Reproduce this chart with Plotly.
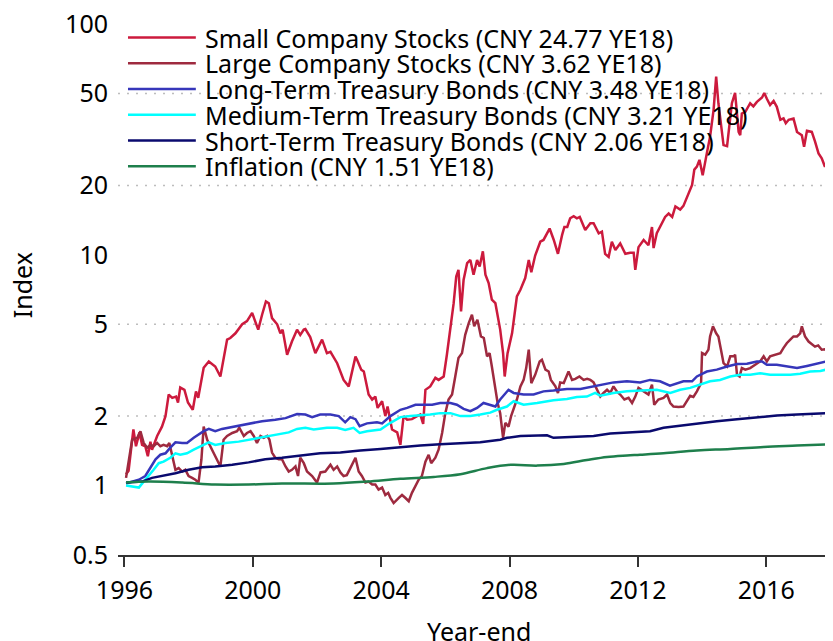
import numpy as np
import plotly.graph_objs as go

# ---- data (index, 1996 = 1) ----
small_years = [
    1996.05, 1996.13, 1996.28, 1996.36, 1996.47, 1996.55, 1996.65, 1996.73, 1996.81, 1996.86,
    1997.02, 1997.17, 1997.28, 1997.38, 1997.49, 1997.61, 1997.67, 1997.74, 1997.87, 1997.98,
    1998.13, 1998.23, 1998.30, 1998.47, 1998.63, 1998.83, 1998.99, 1999.20, 1999.30, 1999.46,
    1999.67, 1999.82, 1999.98, 2000.17, 2000.29, 2000.41, 2000.50, 2000.60, 2000.76, 2000.86,
    2000.93, 2001.07, 2001.22, 2001.38, 2001.48, 2001.59, 2001.64, 2001.79, 2001.95, 2002.16,
    2002.31, 2002.42, 2002.63, 2002.83, 2002.99, 2003.20, 2003.25, 2003.38, 2003.46, 2003.61,
    2003.72, 2003.82, 2003.89, 2004.03, 2004.13, 2004.20, 2004.34, 2004.50, 2004.60, 2004.70,
    2004.81, 2004.96, 2005.12, 2005.22, 2005.31, 2005.38, 2005.53, 2005.69, 2005.79, 2005.95,
    2006.05, 2006.16, 2006.26, 2006.34, 2006.41, 2006.49, 2006.57, 2006.68, 2006.78, 2006.88,
    2006.99, 2007.07, 2007.17, 2007.25, 2007.35, 2007.45, 2007.56, 2007.71, 2007.80, 2007.85,
    2007.94, 2008.08, 2008.23, 2008.34, 2008.49, 2008.60, 2008.68, 2008.80, 2008.96, 2009.06,
    2009.15, 2009.25, 2009.38, 2009.51, 2009.64, 2009.71, 2009.80, 2009.89, 2010.00, 2010.10,
    2010.19, 2010.36, 2010.52, 2010.62, 2010.78, 2010.88, 2010.98, 2011.09, 2011.19, 2011.30,
    2011.45, 2011.61, 2011.76, 2011.87, 2011.92, 2012.02, 2012.18, 2012.33, 2012.44, 2012.49,
    2012.59, 2012.75, 2012.85, 2012.96, 2013.07, 2013.17, 2013.32, 2013.42, 2013.58, 2013.69,
    2013.76, 2013.84, 2013.92, 2014.02, 2014.15, 2014.25, 2014.36, 2014.44, 2014.51, 2014.59,
    2014.67, 2014.78, 2014.86, 2014.93, 2015.03, 2015.09, 2015.14, 2015.19, 2015.24, 2015.35,
    2015.50, 2015.60, 2015.71, 2015.87, 2015.94, 2016.02, 2016.12, 2016.23, 2016.33, 2016.44,
    2016.54, 2016.61, 2016.70, 2016.85, 2016.96, 2017.11, 2017.18, 2017.27, 2017.42, 2017.52,
    2017.63, 2017.73, 2017.83, 2017.94, 2018.00,
]
small_values = [
    1.12, 1.16, 1.75, 1.48, 1.70, 1.50, 1.48, 1.34, 1.55, 1.43,
    1.64, 1.80, 2.00, 2.48, 2.40, 2.43, 2.29, 2.66, 2.60, 2.29,
    2.13, 2.56, 2.40, 3.24, 3.45, 3.28, 2.97, 4.29, 4.36, 4.57,
    5.00, 5.16, 5.60, 4.74, 5.50, 6.28, 6.17, 5.32, 5.00, 4.57,
    4.74, 3.69, 4.21, 4.74, 4.50, 4.74, 4.77, 4.40, 3.75, 4.29,
    3.75, 3.80, 3.39, 2.87, 2.69, 3.62, 3.51, 3.18, 3.12, 2.48,
    2.36, 2.43, 2.17, 2.32, 2.00, 2.20, 1.75, 1.70, 1.50, 2.00,
    1.93, 1.94, 2.00, 2.03, 1.85, 2.60, 2.69, 2.93, 2.87, 2.97,
    3.70, 4.90, 6.17, 8.05, 8.61, 5.69, 7.80, 9.20, 9.50, 8.20,
    9.50, 8.90, 10.35, 8.20, 7.55, 6.39, 6.17, 4.74, 3.75, 2.97,
    3.75, 4.57, 6.60, 7.06, 7.93, 9.50, 8.40, 9.93, 11.4, 11.6,
    12.2, 13.0, 11.6, 10.1, 12.2, 13.2, 13.2, 14.4, 14.7, 14.4,
    14.6, 12.8, 13.7, 13.7, 12.4, 12.6, 10.1, 9.8, 11.4, 10.5,
    11.2, 10.1, 10.2, 10.2, 8.6, 10.8, 11.6, 11.0, 13.2, 10.7,
    12.4, 13.7, 14.6, 15.1, 14.6, 16.2, 15.7, 16.3, 18.5, 20.1,
    23.4, 24.1, 25.8, 22.1, 27.6, 32.5, 42.5, 59.2, 45.4, 37.2,
    29.9, 29.6, 38.5, 45.4, 50.3, 41.0, 34.1, 33.0, 41.0, 41.7,
    45.4, 44.0, 46.0, 48.1, 50.3, 47.5, 44.6, 46.5, 43.8, 38.5,
    39.0, 37.2, 38.5, 39.0, 34.1, 33.0, 29.4, 34.5, 34.1, 31.0,
    27.5, 26.2, 24.1, 25.3, 24.77,
]

large_years = [
    1996.05, 1996.24, 1996.40, 1996.50, 1996.60, 1996.71, 1996.81, 1996.91, 1997.02, 1997.12,
    1997.22, 1997.33, 1997.40, 1997.49, 1997.59, 1997.69, 1997.80, 1997.90, 1998.00, 1998.11,
    1998.21, 1998.31, 1998.40, 1998.47, 1998.58, 1998.73, 1998.83, 1998.99, 1999.09, 1999.20,
    1999.36, 1999.51, 1999.58, 1999.72, 1999.82, 1999.93, 2000.03, 2000.13, 2000.24, 2000.34,
    2000.45, 2000.52, 2000.60, 2000.70, 2000.81, 2000.91, 2001.02, 2001.12, 2001.22, 2001.33,
    2001.41, 2001.48, 2001.59, 2001.69, 2001.85, 2002.00, 2002.11, 2002.26, 2002.42, 2002.52,
    2002.63, 2002.73, 2002.83, 2002.93, 2003.04, 2003.20, 2003.30, 2003.40, 2003.51, 2003.61,
    2003.72, 2003.82, 2003.92, 2004.03, 2004.13, 2004.22, 2004.29, 2004.39, 2004.55, 2004.65,
    2004.75, 2004.86, 2004.96, 2005.07, 2005.17, 2005.27, 2005.38, 2005.48, 2005.56, 2005.69,
    2005.79, 2005.90, 2006.00, 2006.10, 2006.21, 2006.31, 2006.41, 2006.52, 2006.62, 2006.73,
    2006.83, 2006.90, 2007.00, 2007.11, 2007.20, 2007.30, 2007.38, 2007.45, 2007.56, 2007.63,
    2007.71, 2007.80, 2007.87, 2007.97, 2008.05, 2008.15, 2008.23, 2008.34, 2008.44, 2008.52,
    2008.60, 2008.68, 2008.80, 2008.94, 2009.01, 2009.12, 2009.22, 2009.29, 2009.43, 2009.51,
    2009.58, 2009.69, 2009.84, 2009.95, 2010.05, 2010.18, 2010.31, 2010.42, 2010.52, 2010.62,
    2010.73, 2010.83, 2010.93, 2011.04, 2011.14, 2011.24, 2011.35, 2011.45, 2011.58, 2011.71,
    2011.82, 2011.92, 2012.02, 2012.18, 2012.33, 2012.44, 2012.51, 2012.64, 2012.80, 2012.91,
    2013.01, 2013.11, 2013.27, 2013.42, 2013.53, 2013.63, 2013.73, 2013.84, 2013.97, 2014.00,
    2014.10, 2014.20, 2014.25, 2014.34, 2014.44, 2014.51, 2014.59, 2014.67, 2014.78, 2014.88,
    2014.99, 2015.03, 2015.09, 2015.17, 2015.24, 2015.35, 2015.50, 2015.66, 2015.81, 2015.92,
    2016.02, 2016.12, 2016.28, 2016.44, 2016.54, 2016.64, 2016.75, 2016.85, 2016.96, 2017.06,
    2017.11, 2017.21, 2017.32, 2017.42, 2017.52, 2017.62, 2017.73, 2017.83, 2017.94, 2018.00,
]
large_values = [
    1.08, 1.58, 1.61, 1.72, 1.53, 1.46, 1.50, 1.48, 1.53, 1.48,
    1.50, 1.48, 1.53, 1.36, 1.17, 1.19, 1.15, 1.17, 1.10, 1.08,
    1.06, 1.03, 1.30, 1.80, 1.58, 1.43, 1.34, 1.21, 1.58, 1.64,
    1.69, 1.72, 1.78, 1.64, 1.69, 1.72, 1.64, 1.53, 1.64, 1.61,
    1.64, 1.58, 1.39, 1.32, 1.30, 1.30, 1.21, 1.15, 1.17, 1.21,
    1.10, 1.32, 1.25, 1.15, 1.10, 1.03, 1.14, 1.15, 1.23, 1.17,
    1.21, 1.14, 1.10, 1.11, 1.19, 1.32, 1.15, 1.10, 1.03, 1.04,
    1.01, 1.01, 0.96, 0.98, 0.91, 0.93, 0.885, 0.84, 0.885, 0.91,
    0.885, 0.855, 0.93, 1.00, 1.06, 1.10, 1.27, 1.36, 1.25, 1.32,
    1.43, 1.69, 2.06, 2.36, 2.48, 2.97, 3.57, 3.75, 4.50, 5.06,
    5.50, 4.90, 5.23, 4.43, 4.36, 3.63, 3.75, 3.28, 2.69, 2.28,
    2.06, 1.61, 1.87, 1.80, 2.00, 2.20, 2.36, 2.69, 2.87, 3.23,
    3.88, 2.78, 3.02, 3.45, 3.51, 3.18, 3.12, 2.87, 2.69, 2.52,
    2.80, 2.78, 3.12, 2.87, 2.90, 2.97, 2.87, 2.90, 2.87, 2.80,
    2.60, 2.43, 2.52, 2.60, 2.52, 2.69, 2.55, 2.48, 2.36, 2.40,
    2.28, 2.43, 2.65, 2.56, 2.48, 2.74, 2.24, 2.36, 2.40, 2.48,
    2.28, 2.20, 2.19, 2.20, 2.32, 2.45, 2.42, 2.56, 2.78, 3.75,
    3.69, 3.88, 4.43, 4.90, 4.57, 4.43, 3.88, 3.39, 3.28, 3.63,
    3.63, 3.69, 3.02, 2.97, 3.23, 3.18, 3.23, 3.34, 3.45, 3.63,
    3.45, 3.63, 3.69, 3.75, 3.95, 4.14, 4.29, 4.43, 4.43, 4.57,
    4.90, 4.43, 4.21, 4.10, 4.00, 4.05, 3.88, 3.90, 3.75, 3.62,
]

long_years = [
    1996.05, 1996.45, 1996.65, 1996.81, 1996.97, 1997.12, 1997.28, 1997.43, 1997.59, 1997.80,
    1997.95, 1998.16, 1998.31, 1998.47, 1998.63, 1998.83, 1999.04, 1999.46, 1999.87, 2000.29,
    2000.70, 2001.02, 2001.38, 2001.64, 2001.85, 2002.10, 2002.42, 2002.68, 2002.88, 2003.04,
    2003.20, 2003.33, 2003.56, 2003.87, 2004.03, 2004.29, 2004.60, 2004.81, 2005.07, 2005.33,
    2005.59, 2005.84, 2006.16, 2006.36, 2006.57, 2006.78, 2006.99, 2007.19, 2007.40, 2007.56,
    2007.71, 2007.97, 2008.13, 2008.44, 2008.75, 2009.06, 2009.37, 2009.79, 2010.21, 2010.52,
    2010.83, 2011.24, 2011.66, 2012.07, 2012.38, 2012.69, 2013.00, 2013.42, 2013.69, 2013.84,
    2014.15, 2014.46, 2014.78, 2015.09, 2015.40, 2015.71, 2015.87, 2016.02, 2016.33, 2016.64,
    2016.96, 2017.27, 2017.58, 2018.00,
]
long_values = [
    1.02, 1.06, 1.10, 1.19, 1.30, 1.36, 1.38, 1.46, 1.54, 1.53,
    1.53, 1.61, 1.66, 1.72, 1.76, 1.72, 1.76, 1.81, 1.86, 1.90,
    1.93, 1.96, 2.04, 2.03, 1.98, 2.03, 2.03, 2.00, 1.88, 1.98,
    1.94, 1.81, 1.86, 1.88, 1.86, 2.00, 2.13, 2.17, 2.24, 2.24,
    2.24, 2.28, 2.28, 2.24, 2.15, 2.10, 2.17, 2.28, 2.24, 2.20,
    2.36, 2.60, 2.52, 2.48, 2.48, 2.56, 2.58, 2.62, 2.62, 2.67,
    2.74, 2.80, 2.83, 2.80, 2.87, 2.83, 2.71, 2.83, 2.83, 2.97,
    3.12, 3.18, 3.28, 3.36, 3.37, 3.45, 3.45, 3.34, 3.34, 3.28,
    3.23, 3.30, 3.37, 3.48,
]

medium_years = [
    1996.05, 1996.24, 1996.45, 1996.60, 1996.76, 1996.91, 1997.07, 1997.22, 1997.43, 1997.59,
    1997.74, 1997.95, 1998.16, 1998.37, 1998.63, 1998.83, 1999.15, 1999.56, 1999.98, 2000.39,
    2000.81, 2001.12, 2001.38, 2001.64, 2001.90, 2002.31, 2002.63, 2002.88, 2003.14, 2003.33,
    2003.56, 2003.98, 2004.29, 2004.60, 2004.91, 2005.22, 2005.53, 2005.84, 2006.16, 2006.47,
    2006.78, 2007.09, 2007.40, 2007.61, 2007.92, 2008.13, 2008.44, 2008.86, 2009.37, 2009.79,
    2010.10, 2010.41, 2010.67, 2010.83, 2011.24, 2011.66, 2012.07, 2012.59, 2013.01, 2013.32,
    2013.63, 2013.94, 2014.25, 2014.56, 2014.88, 2015.19, 2015.50, 2015.81, 2016.12, 2016.44,
    2016.75, 2017.06, 2017.37, 2017.69, 2018.00,
]
medium_values = [
    1.00, 0.99, 0.98, 1.04, 1.10, 1.17, 1.25, 1.27, 1.32, 1.38,
    1.36, 1.38, 1.43, 1.48, 1.54, 1.50, 1.53, 1.55, 1.59, 1.63,
    1.68, 1.70, 1.76, 1.78, 1.75, 1.78, 1.78, 1.74, 1.78, 1.69,
    1.72, 1.75, 1.87, 1.98, 2.00, 2.01, 2.03, 2.06, 2.06, 2.00,
    2.00, 2.03, 2.07, 2.13, 2.20, 2.32, 2.24, 2.28, 2.34, 2.37,
    2.42, 2.43, 2.52, 2.45, 2.52, 2.56, 2.58, 2.60, 2.52, 2.60,
    2.65, 2.74, 2.83, 2.87, 2.97, 3.02, 3.02, 3.07, 3.02, 3.02,
    3.02, 3.05, 3.12, 3.14, 3.21,
]

short_years = [
    1996.05, 1996.55, 1996.86, 1997.17, 1997.59, 1998.00, 1998.42, 1998.83, 1999.36, 1999.87,
    2000.39, 2000.91, 2001.54, 2002.10, 2002.73, 2003.35, 2003.98, 2004.60, 2005.22, 2005.84,
    2006.47, 2007.09, 2007.71, 2007.92, 2008.34, 2009.17, 2009.37, 2009.89, 2010.62, 2011.14,
    2011.66, 2012.07, 2012.38, 2012.80, 2013.32, 2013.84, 2014.46, 2015.09, 2015.71, 2016.33,
    2016.96, 2017.58, 2018.00,
]
short_values = [
    1.03, 1.04, 1.08, 1.10, 1.13, 1.17, 1.20, 1.21, 1.23, 1.26,
    1.30, 1.32, 1.35, 1.38, 1.39, 1.42, 1.44, 1.47, 1.49, 1.51,
    1.52, 1.54, 1.58, 1.61, 1.64, 1.65, 1.61, 1.62, 1.64, 1.68,
    1.70, 1.72, 1.72, 1.78, 1.82, 1.86, 1.90, 1.94, 1.98, 2.01,
    2.03, 2.05, 2.06,
]

inflation_years = [
    1996.05, 1996.76, 1997.80, 1998.83, 1999.87, 2000.91, 2002.52, 2003.56, 2004.60, 2005.64,
    2006.47, 2007.30, 2008.04, 2008.86, 2009.69, 2010.41, 2011.04, 2011.66, 2012.07, 2012.80,
    2013.84, 2014.88, 2015.92, 2016.96, 2018.00,
]
inflation_values = [
    1.03, 1.04, 1.03, 1.01, 1.01, 1.02, 1.02, 1.04, 1.07, 1.09,
    1.12, 1.19, 1.23, 1.22, 1.24, 1.29, 1.33, 1.35, 1.36, 1.38,
    1.42, 1.44, 1.47, 1.49, 1.51,
]

series_names = [
    "Small Company Stocks (CNY 24.77 YE18)",
    "Large Company Stocks (CNY 3.62 YE18)",
    "Long-Term Treasury Bonds (CNY 3.48 YE18)",
    "Medium-Term Treasury Bonds (CNY 3.21 YE18)",
    "Short-Term Treasury Bonds (CNY 2.06 YE18)",
    "Inflation (CNY 1.51 YE18)",
]
series_colors = ["#CC1A3D", "#9E2A3F", "#3636BA", "#00FFFF", "#0A0A6E", "#1E7F4C"]

x_ticks = [1996, 2000, 2004, 2008, 2012, 2016]
y_ticks = [0.5, 1, 2, 5, 10, 20, 50, 100]
y_tick_text = ["0.5", "1", "2", "5", "10", "20", "50", "100"]
grid_levels = [2, 5, 20, 50]

FONT = "Noto Sans"
FS = 25

series = [
    (small_years, small_values),
    (large_years, large_values),
    (long_years, long_values),
    (medium_years, medium_values),
    (short_years, short_values),
    (inflation_years, inflation_values),
]

fig = go.Figure()
for (xs, ys), name, color in zip(series, series_names, series_colors):
    fig.add_trace(
        go.Scatter(
            x=xs,
            y=ys,
            name=name,
            mode="lines",
            line=dict(color=color, width=2.5,
                      shape="spline" if name.startswith("Inflation") else "linear"),
            showlegend=False,
        )
    )

# dotted gridlines only at some levels (shape y is in data units here)
for v in grid_levels:
    fig.add_shape(
        type="line", xref="paper", x0=0, x1=1, yref="y", y0=v, y1=v,
        line=dict(color="#BDBDBD", width=1.5, dash="2px,7px"),
        layer="below",
    )

# legend drawn by hand (long line samples, tight rows)
leg_top = 0.9745
leg_step = 0.0485
for i, (name, color) in enumerate(zip(series_names, series_colors)):
    yy = leg_top - i * leg_step
    fig.add_shape(
        type="line", xref="paper", yref="paper",
        x0=0.014, x1=0.109, y0=yy, y1=yy,
        line=dict(color=color, width=2.5),
    )
    fig.add_annotation(
        xref="paper", yref="paper", x=0.1195, y=yy,
        text=name, showarrow=False, xanchor="left", yanchor="middle",
        font=dict(family=FONT, size=FS, color="black"),
    )

# axis titles as annotations so they sit exactly where the reference has them
fig.add_annotation(
    xref="paper", yref="paper", x=-0.1345, y=0.508,
    text="Index", textangle=-90, showarrow=False,
    xanchor="center", yanchor="middle",
    font=dict(family=FONT, size=FS, color="black"),
)
fig.add_annotation(
    xref="paper", yref="paper", x=0.505, y=-0.143,
    text="Year-end", showarrow=False,
    xanchor="center", yanchor="middle",
    font=dict(family=FONT, size=FS, color="black"),
)

fig.update_layout(
    width=833,
    height=641,
    margin=dict(l=110, r=9, t=16, b=94),
    plot_bgcolor="white",
    paper_bgcolor="white",
    font=dict(family=FONT, size=FS, color="black"),
    showlegend=False,
    xaxis=dict(
        range=[1995.8, 2018.05],
        tickvals=x_ticks,
        showgrid=False,
        zeroline=False,
        showline=True,
        linecolor="#333333",
        linewidth=1.5,
        ticks="outside",
        ticklen=10,
        tickwidth=1.5,
        tickcolor="#333333",
        ticklabelstandoff=2,
        automargin=False,
    ),
    yaxis=dict(
        type="log",
        range=[np.log10(0.5), 2.0005],
        tickvals=y_ticks,
        ticktext=y_tick_text,
        showgrid=False,
        zeroline=False,
        showline=False,
        ticks="",
        ticklabelstandoff=9,
        ticklabeloverflow="allow",
        automargin=False,
    ),
)

fig.write_html("out.html")
